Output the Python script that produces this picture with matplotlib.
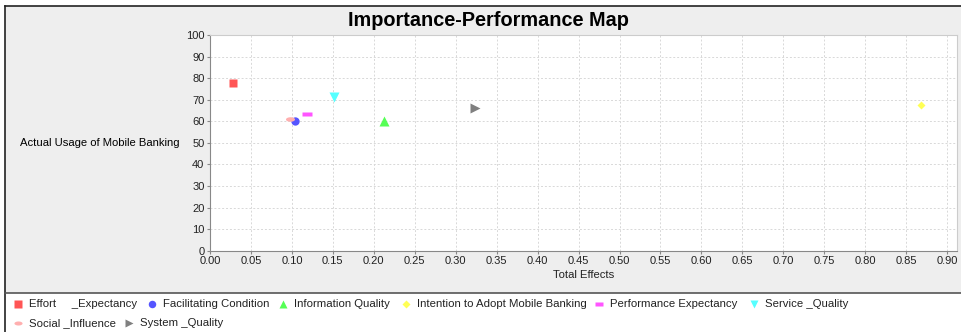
import numpy as np
import matplotlib.pyplot as plt
from matplotlib.patches import Rectangle

plt.rcParams['font.family'] = ['Liberation Sans', 'DejaVu Sans']

# constructs of the IPMA, total effects vs performance
factors = ["Effort     _Expectancy", "Facilitating Condition", "Information Quality",
           "Intention to Adopt Mobile Banking", "Performance Expectancy",
           "Service _Quality", "Social _Influence", "System _Quality"]
total_effects = [0.028, 0.104, 0.213, 0.868, 0.119, 0.151, 0.098, 0.324]
performance = [77.8, 59.9, 60.0, 67.4, 63.2, 71.1, 61.0, 66.3]

# jfreechart-like default series look
colors = ["#ff5555", "#5555ff", "#55ff55", "#ffff55", "#ff55ff", "#55ffff", "#ffafaf", "#808080"]
t = np.linspace(0, 2 * np.pi, 40)
ellipse = list(zip(np.cos(t), 0.5 * np.sin(t)))
hrect = [(-1, -0.45), (1, -0.45), (1, 0.45), (-1, 0.45), (-1, -0.45)]
markers = ["s", "o", "^", "D", hrect, "v", ellipse, ">"]
msizes = [6.0, 6.0, 6.5, 4.5, 6.5, 6.5, 6.5, 6.5]

W, H = 961, 332
fig = plt.figure(figsize=(W / 100, H / 100), dpi=100)
fig.patch.set_facecolor("white")

# background panel + legend region drawn in pixel coords
bg = fig.add_axes([0, 0, 1, 1], zorder=0)
bg.set_xlim(0, W)
bg.set_ylim(H, 0)
bg.axis("off")
bg.add_patch(Rectangle((5, 6), W, 287, facecolor="#eeeeee", edgecolor="none"))
bg.plot([5, 5], [6, H], color="#222222", lw=1.2)
bg.plot([5, W], [6, 6], color="#222222", lw=1.2)
bg.plot([5, W], [293, 293], color="#555555", lw=1.2)

bg.text(488, 21, "Importance-Performance Map", ha="center", va="center",
        fontsize=14.3, fontweight="bold")
bg.text(20, 143, "Actual Usage of Mobile Banking", ha="left", va="center", fontsize=8.1)

# legend entries, flowed like the original
leg_pos = [(18, 304), (152, 304), (283, 304), (406, 304), (599, 304), (754, 304),
           (18, 323), (129, 323)]
for i, (px, py) in enumerate(leg_pos):
    bg.plot(px, py, marker=markers[i], ms=msizes[i] * 0.9, color=colors[i], mec="none", ls="none")
    bg.text(px + 11, py, factors[i], ha="left", va="center", fontsize=8.2, color="#222222")

# the scatter itself
ax = fig.add_axes([210 / W, (H - 250.7) / H, (957 - 210) / W, (250.7 - 35) / H], zorder=1)
ax.set_facecolor("white")
for i in range(len(factors)):
    ax.plot(total_effects[i], performance[i], marker=markers[i], ms=msizes[i],
            color=colors[i], mec="none", ls="none")

ax.set_xlim(0, 0.912)
ax.set_ylim(0, 100)
ax.set_xticks(np.arange(0, 0.91, 0.05))
ax.set_xticklabels([f"{v:.2f}" for v in np.arange(0, 0.91, 0.05)])
ax.set_yticks(np.arange(0, 101, 10))
ax.tick_params(labelsize=8, length=2, width=0.8, color="#888888", pad=2, labelcolor="#222222")
ax.grid(True, color="#d8d8d8", ls=(0, (2, 2)), lw=0.7)
for s in ["left", "bottom"]:
    ax.spines[s].set_color("#888888")
for s in ["top", "right"]:
    ax.spines[s].set_color("#cccccc")
ax.set_xlabel("Total Effects", fontsize=8.1, labelpad=3, color="#222222")

fig.savefig("out.png", dpi=100)
